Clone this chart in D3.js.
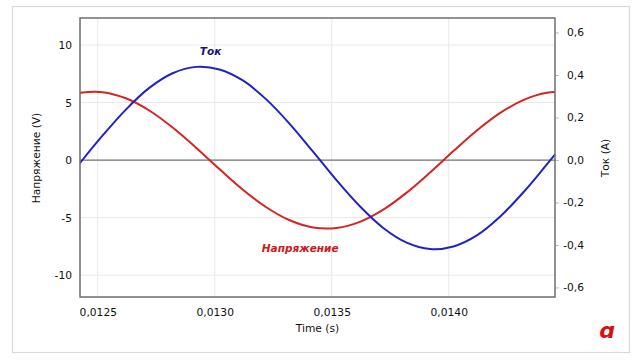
<!DOCTYPE html>
<html><head><meta charset="utf-8">
<script src="https://cdn.jsdelivr.net/npm/d3@7/dist/d3.min.js"></script>
<style>
body{margin:0;background:#fff;}
text{font-family:"DejaVu Sans",sans-serif;}
</style></head>
<body><svg id="c" width="640" height="360"></svg>
<script>
// time samples (s)
const times = [0.01242,0.01252,0.01262,0.01272,0.01282,0.01292,0.01302,0.01312,0.01322,0.01332,0.01342,
               0.01352,0.01362,0.01372,0.01382,0.01392,0.01402,0.01412,0.01422,0.01432,0.01442,0.01452];
// voltage (V), left axis
const voltage = [5.85,5.90,5.37,4.31,2.83,1.08,-0.78,-2.57,-4.10,-5.23,-5.85,
                 -5.90,-5.37,-4.31,-2.83,-1.08,0.78,2.57,4.10,5.23,5.85,5.90];
// current (A), right axis
const current = [-0.020,0.114,0.237,0.339,0.408,0.438,0.426,0.374,0.285,0.170,0.039,
                 -0.095,-0.218,-0.320,-0.389,-0.419,-0.407,-0.355,-0.266,-0.151,-0.020,0.114];
const xTicks = [0.0125,0.0130,0.0135,0.0140];
const xTickLabels = ["0,0125","0,0130","0,0135","0,0140"];
const yLeftTicks = [10,5,0,-5,-10];
const yRightTicks = [0.6,0.4,0.2,0.0,-0.2,-0.4,-0.6];
const yRightTickLabels = ["0,6","0,4","0,2","0,0","-0,2","-0,4","-0,6"];

const svg = d3.select("#c");
const L=80,R=555,T=18,B=297;
const x = d3.scaleLinear().domain([0.012424,0.014454]).range([L,R]);
const yL = d3.scaleLinear().domain([-11.9,12.35]).range([B,T]);
const yR = d3.scaleLinear().domain([-0.645,0.668]).range([B,T]);

// outer frame
svg.append("rect").attr("x",12.5).attr("y",6.5).attr("width",617).attr("height",346)
  .attr("fill","#fff").attr("stroke","#d9d9d9").attr("stroke-width",1.2);

svg.append("defs").append("clipPath").attr("id","clip")
  .append("rect").attr("x",L).attr("y",T).attr("width",R-L).attr("height",B-T);

// grid
const g = svg.append("g");
g.selectAll(".vg").data(xTicks).enter().append("line")
  .attr("x1",d=>x(d)).attr("x2",d=>x(d)).attr("y1",T).attr("y2",B)
  .attr("stroke","#e8e8e8").attr("stroke-width",1);
g.selectAll(".hg").data(yLeftTicks.filter(d=>d!==0)).enter().append("line")
  .attr("x1",L).attr("x2",R).attr("y1",d=>yL(d)).attr("y2",d=>yL(d))
  .attr("stroke","#e8e8e8").attr("stroke-width",1);
// zero line
g.append("line").attr("x1",L).attr("x2",R).attr("y1",yL(0)).attr("y2",yL(0))
  .attr("stroke","#707070").attr("stroke-width",1.2);

// axes via d3
const fs = "10.7px";
const axB = svg.append("g").attr("transform",`translate(0,${B})`)
  .call(d3.axisBottom(x).tickValues(xTicks).tickFormat((d,i)=>xTickLabels[i]).tickSize(0).tickPadding(11));
const axL = svg.append("g").attr("transform",`translate(${L},0)`)
  .call(d3.axisLeft(yL).tickValues(yLeftTicks).tickFormat(d=>String(d)).tickSize(0).tickPadding(8));
const axR = svg.append("g").attr("transform",`translate(${R},0)`)
  .call(d3.axisRight(yR).tickValues(yRightTicks).tickFormat((d,i)=>yRightTickLabels[i]).tickSize(4).tickPadding(25));
[axB,axL,axR].forEach(a=>{a.select(".domain").remove();
  a.selectAll("text").attr("font-size",fs).attr("fill","#111").attr("font-family","DejaVu Sans");});
axR.selectAll("line").attr("stroke","#bbb");
axR.selectAll("text").attr("text-anchor","end");

// lines
const lineV = d3.line().x((d,i)=>x(times[i])).y(d=>yL(d)).curve(d3.curveCatmullRom);
const lineI = d3.line().x((d,i)=>x(times[i])).y(d=>yR(d)).curve(d3.curveCatmullRom);
const pl = svg.append("g").attr("clip-path","url(#clip)");
pl.append("path").attr("d",lineV(voltage)).attr("fill","none").attr("stroke","#d42424").attr("stroke-width",2);
pl.append("path").attr("d",lineI(current)).attr("fill","none").attr("stroke","#2222c4").attr("stroke-width",2);

// plot frame
svg.append("rect").attr("x",L).attr("y",T).attr("width",R-L).attr("height",B-T)
  .attr("fill","none").attr("stroke","#6e6e6e").attr("stroke-width",1.5);

// series labels
svg.append("text").attr("x",x(0.012982)).attr("y",55).attr("text-anchor","middle")
  .attr("font-size","10.5px").attr("font-weight","bold").attr("font-style","italic")
  .attr("fill","#16166e").text("Ток");
svg.append("text").attr("x",x(0.013365)).attr("y",252).attr("text-anchor","middle")
  .attr("font-size","10.5px").attr("font-weight","bold").attr("font-style","italic")
  .attr("fill","#d01818").text("Напряжение");

// axis titles
svg.append("text").attr("x",(L+R)/2).attr("y",332).attr("text-anchor","middle")
  .attr("font-size",fs).attr("fill","#111").text("Time (s)");
svg.append("text").attr("transform","translate(40,158) rotate(-90)").attr("text-anchor","middle")
  .attr("font-size",fs).attr("fill","#111").text("Напряжение (V)");
svg.append("text").attr("transform","translate(609,158) rotate(-90)").attr("text-anchor","middle")
  .attr("font-size",fs).attr("fill","#111").text("Ток (A)");

// logo
svg.append("text").attr("x",607).attr("y",338).attr("text-anchor","middle")
  .attr("font-size","22px").attr("font-weight","bold").attr("font-family","DejaVu Serif")
  .attr("font-style","italic").attr("fill","#d81010").text("ɑ");
</script></body></html>
